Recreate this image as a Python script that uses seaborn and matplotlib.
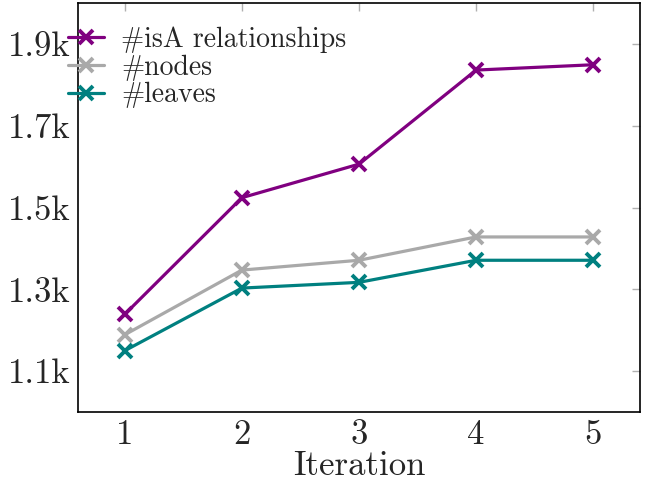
import pandas as pd
import seaborn as sns
import matplotlib.pyplot as plt

# values
iterations = [1, 2, 3, 4, 5]
isa_rel = [1239, 1524, 1606, 1836, 1849]
nodes = [1189, 1347, 1371, 1428, 1428]
leaves = [1150, 1303, 1317, 1371, 1371]
series_names = ['#isA relationships', '#nodes', '#leaves']
colors = ['#800080', '#a9a9a9', '#008080']
y_ticks = [1100, 1300, 1500, 1700, 1900]
y_tick_labels = ['1.1k', '1.3k', '1.5k', '1.7k', '1.9k']

df = pd.DataFrame({
    'Iteration': iterations * 3,
    'value': isa_rel + nodes + leaves,
    'series': [s for s in series_names for _ in iterations],
})

sns.set_style('white')
plt.rcParams['font.family'] = ['cmr10', 'DejaVu Serif']
plt.rcParams['mathtext.fontset'] = 'cm'
plt.rcParams['axes.unicode_minus'] = False

fig = plt.figure(figsize=(6.46, 4.82), dpi=100)
ax = fig.add_axes([0.1207, 0.1452, 0.8700, 0.8486])

# one call per series so the x markers keep the line colour
for name, c in zip(series_names, colors):
    sns.lineplot(data=df[df['series'] == name], x='Iteration', y='value',
                 color=c, label=name, marker='x', markersize=10,
                 markeredgewidth=2.8, markeredgecolor=c, linewidth=2.3, ax=ax)

ax.set_xlim(0.6, 5.4)
ax.set_ylim(1000, 2000)
ax.set_xticks(iterations)
ax.set_yticks(y_ticks)
ax.set_yticklabels(y_tick_labels)
ax.tick_params(axis='both', which='both', direction='in', length=6, width=1,
               color='#b0b0b0', labelsize=25, top=True, right=True, pad=5)
ax.set_xlabel('Iteration', fontsize=25, labelpad=0)
ax.set_ylabel('')
for sp in ax.spines.values():
    sp.set_color('black')
    sp.set_linewidth(1.2)

leg = ax.legend(loc='upper left', frameon=False, fontsize=20, handlelength=1.3,
                handletextpad=0.6, labelspacing=0.05, borderaxespad=0.3,
                bbox_to_anchor=(-0.052, 0.99))

fig.savefig('out.png', dpi=100)
